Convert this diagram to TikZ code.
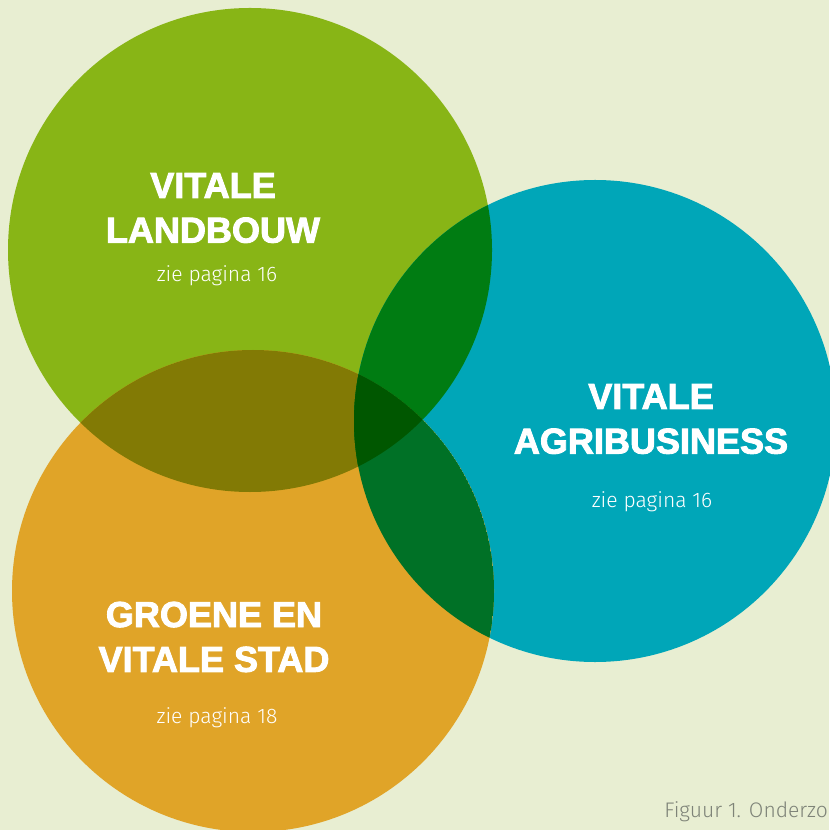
\documentclass[tikz,border=0pt]{standalone}
\usepackage{fontspec}
\setmainfont{Fira Sans Light}
\newfontfamily\headfont[FakeBold=2.5]{Liberation Sans Bold}
\usetikzlibrary{positioning}

\definecolor{bgcol}{HTML}{E8EED2}
\definecolor{landcol}{HTML}{88B516}
\definecolor{agricol}{HTML}{00A6B8}
\definecolor{stadcol}{HTML}{E0A428}
\definecolor{landagri}{HTML}{007C12}
\definecolor{landstad}{HTML}{827A05}
\definecolor{agristad}{HTML}{007126}
\definecolor{allthree}{HTML}{005700}
\definecolor{captcol}{HTML}{7E8378}

\tikzset{
  headline/.style={text=white,align=center,inner sep=0pt,
    font=\headfont\fontsize{20.5}{25.5}\selectfont},
  pageref/.style={text=white,inner sep=0pt,anchor=base,
    font=\fontsize{12}{14}\selectfont}
}

\begin{document}
\begin{tikzpicture}[x=0.02cm,y=-0.02cm]
\useasboundingbox (0,0) rectangle (829,830);
\fill[bgcol] (0,0) rectangle (829,830);

% the three circles
\coordinate (landbouw) at (250,250);
\coordinate (agri) at (595,421);
\coordinate (stad) at (253,591);
\fill[landcol] (landbouw) circle (242);
\fill[agricol] (agri) circle (241);
\fill[stadcol] (stad) circle (241);

% overlaps
\begin{scope}
  \clip (landbouw) circle (242);
  \fill[landagri] (agri) circle (241);
  \fill[landstad] (stad) circle (241);
  \clip (agri) circle (241);
  \fill[allthree] (stad) circle (241);
\end{scope}
\begin{scope}
  \clip (agri) circle (241);
  \clip (stad) circle (241);
  \fill[agristad] (stad) circle (241);
  \clip (landbouw) circle (242);
  \fill[allthree] (stad) circle (241);
\end{scope}

% labels
\node[headline] (landtitle) at (213,208) {VITALE\\LANDBOUW};
\node[pageref] (landpage) at (217,282) {zie pagina 16};
\node[headline] (agrititle) at (651,419) {VITALE\\AGRIBUSINESS};
\node[pageref] (agripage) at (652,507) {zie pagina 16};
\node[headline] (stadtitle) at (214,637) {GROENE EN\\VITALE STAD};
\node[pageref] (stadpage) at (217,723) {zie pagina 18};

\node[anchor=base west,inner sep=0pt,text=captcol,
  font=\fontsize{12}{14}\selectfont] (caption) at (664,817) {Figuur 1. Onderzo};
\end{tikzpicture}
\end{document}
